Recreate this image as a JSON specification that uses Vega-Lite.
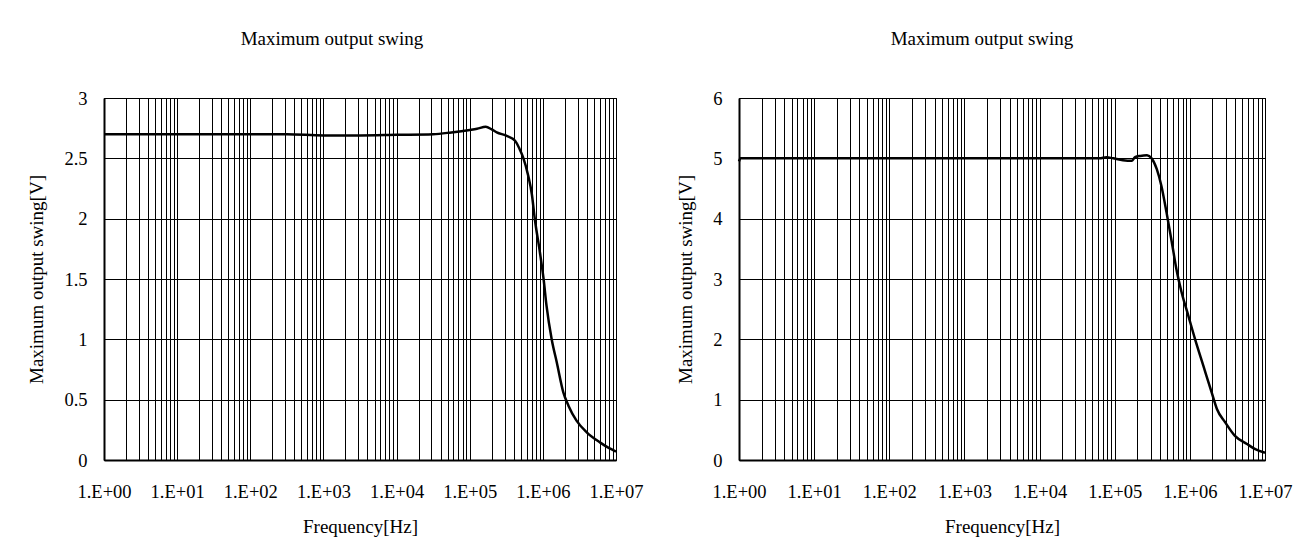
{
  "$schema": "https://vega.github.io/schema/vega-lite/v6.json",
  "background": "white",
  "padding": {"left": 27, "top": 29, "right": 0, "bottom": 0},
  "spacing": 123,
  "bounds": "flush",
  "datasets": {
    "left": [
      {"f": 1, "v": 2.70}, {"f": 3.162, "v": 2.70}, {"f": 10, "v": 2.70}, {"f": 31.62, "v": 2.70},
      {"f": 100, "v": 2.70}, {"f": 316.2, "v": 2.70}, {"f": 1000, "v": 2.69}, {"f": 3162, "v": 2.69},
      {"f": 10000, "v": 2.695}, {"f": 31623, "v": 2.70}, {"f": 56234, "v": 2.715}, {"f": 100000, "v": 2.735},
      {"f": 125893, "v": 2.745}, {"f": 165959, "v": 2.762}, {"f": 199526, "v": 2.74}, {"f": 234423, "v": 2.715},
      {"f": 316228, "v": 2.688}, {"f": 416869, "v": 2.646}, {"f": 478630, "v": 2.58}, {"f": 537032, "v": 2.508},
      {"f": 630957, "v": 2.356}, {"f": 707946, "v": 2.2}, {"f": 776247, "v": 1.997}, {"f": 912011, "v": 1.72},
      {"f": 1023293, "v": 1.5}, {"f": 1122018, "v": 1.279}, {"f": 1318257, "v": 1.003}, {"f": 1548817, "v": 0.81},
      {"f": 1905461, "v": 0.561}, {"f": 2238721, "v": 0.45}, {"f": 2884032, "v": 0.326}, {"f": 3981072, "v": 0.229},
      {"f": 6025596, "v": 0.146}, {"f": 7943282, "v": 0.1}, {"f": 10000000, "v": 0.07}
    ],
    "right": [
      {"f": 1, "v": 4.95}, {"f": 1.047, "v": 5.0}, {"f": 10, "v": 5.0}, {"f": 100, "v": 5.0},
      {"f": 1000, "v": 5.0}, {"f": 10000, "v": 5.0}, {"f": 63096, "v": 5.0}, {"f": 77625, "v": 5.02},
      {"f": 95499, "v": 5.0}, {"f": 128825, "v": 4.97}, {"f": 169824, "v": 4.96}, {"f": 186209, "v": 5.02},
      {"f": 218776, "v": 5.04}, {"f": 269153, "v": 5.05}, {"f": 309030, "v": 5.0}, {"f": 363078, "v": 4.82},
      {"f": 416869, "v": 4.55}, {"f": 489779, "v": 4.10}, {"f": 575440, "v": 3.61}, {"f": 660693, "v": 3.17},
      {"f": 776247, "v": 2.78}, {"f": 954993, "v": 2.39}, {"f": 1174898, "v": 2.0}, {"f": 1513561, "v": 1.56},
      {"f": 1949845, "v": 1.12}, {"f": 2290868, "v": 0.845}, {"f": 2951209, "v": 0.625}, {"f": 3981072, "v": 0.40},
      {"f": 5754399, "v": 0.265}, {"f": 7413102, "v": 0.18}, {"f": 10000000, "v": 0.12}
    ]
  },
  "hconcat": [
    {
      "width": 512,
      "height": 362,
      "title": {"text": "Maximum output swing", "dx": -28},
      "data": {"name": "left"},
      "mark": {"type": "line", "color": "black", "strokeWidth": 2.5, "interpolate": "monotone"},
      "encoding": {
        "x": {
          "field": "f", "type": "quantitative", "title": "Frequency[Hz]",
          "scale": {"type": "log", "domain": [1, 10000000], "nice": false},
          "axis": {
            "values": [1,2,3,4,5,6,7,8,9,10,20,30,40,50,60,70,80,90,100,200,300,400,500,600,700,800,900,1000,2000,3000,4000,5000,6000,7000,8000,9000,10000,20000,30000,40000,50000,60000,70000,80000,90000,100000,200000,300000,400000,500000,600000,700000,800000,900000,1000000,2000000,3000000,4000000,5000000,6000000,7000000,8000000,9000000,10000000],
            "labelExpr": "abs(log(datum.value)/LN10 - round(log(datum.value)/LN10)) < 0.001 ? '1.E+0' + round(log(datum.value)/LN10) : ''"
          }
        },
        "y": {
          "field": "v", "type": "quantitative", "title": "Maximum output swing[V]",
          "scale": {"domain": [0, 3], "nice": false},
          "axis": {"values": [0, 0.5, 1, 1.5, 2, 2.5, 3], "format": "~g"}
        }
      }
    },
    {
      "width": 526,
      "height": 362,
      "title": {"text": "Maximum output swing", "dx": -20},
      "data": {"name": "right"},
      "mark": {"type": "line", "color": "black", "strokeWidth": 2.5, "interpolate": "monotone"},
      "encoding": {
        "x": {
          "field": "f", "type": "quantitative", "title": "Frequency[Hz]",
          "scale": {"type": "log", "domain": [1, 10000000], "nice": false},
          "axis": {
            "values": [1,2,3,4,5,6,7,8,9,10,20,30,40,50,60,70,80,90,100,200,300,400,500,600,700,800,900,1000,2000,3000,4000,5000,6000,7000,8000,9000,10000,20000,30000,40000,50000,60000,70000,80000,90000,100000,200000,300000,400000,500000,600000,700000,800000,900000,1000000,2000000,3000000,4000000,5000000,6000000,7000000,8000000,9000000,10000000],
            "labelExpr": "abs(log(datum.value)/LN10 - round(log(datum.value)/LN10)) < 0.001 ? '1.E+0' + round(log(datum.value)/LN10) : ''"
          }
        },
        "y": {
          "field": "v", "type": "quantitative", "title": "Maximum output swing[V]",
          "scale": {"domain": [0, 6], "nice": false},
          "axis": {"values": [0, 1, 2, 3, 4, 5, 6], "format": "~g"}
        }
      }
    }
  ],
  "config": {
    "font": "Liberation Serif",
    "view": {"stroke": "black", "strokeWidth": 1},
    "axis": {
      "labelFont": "Liberation Serif", "titleFont": "Liberation Serif",
      "labelFontSize": 18.5, "titleFontSize": 19, "titleFontWeight": "normal",
      "labelColor": "black", "titleColor": "black",
      "gridColor": "black", "gridOpacity": 1, "gridWidth": 1,
      "domainColor": "black", "domainWidth": 2,
      "ticks": false, "labelFlush": false, "labelOverlap": false, "labelBound": false
    },
    "axisX": {"labelPadding": 22, "titlePadding": 17},
    "axisY": {"labelPadding": 17, "titlePadding": 17},
    "title": {"font": "Liberation Serif", "fontSize": 19, "fontWeight": "normal", "color": "black", "offset": 40}
  }
}
